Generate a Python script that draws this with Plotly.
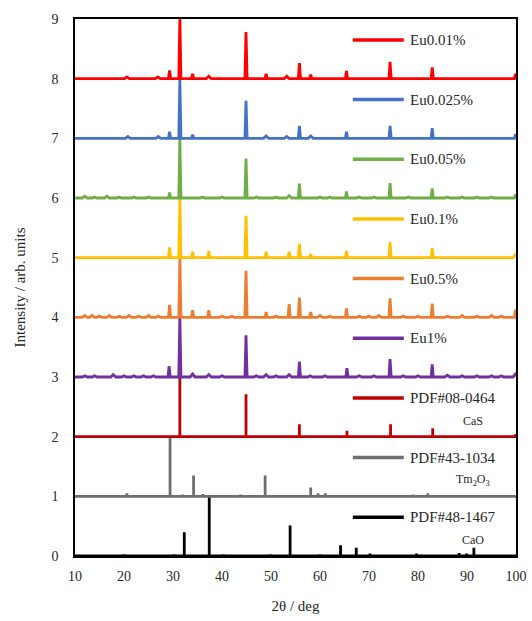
import plotly.graph_objects as go

# ---------------- data ----------------
series_names = ["Eu0.01%", "Eu0.025%", "Eu0.05%", "Eu0.1%", "Eu0.5%", "Eu1%",
                "PDF#08-0464", "PDF#43-1034", "PDF#48-1467"]
series_offsets = [8, 7, 6, 5, 4, 3, 2, 1, 0]
series_colors = ["#FF0000", "#4472C4", "#70AD47", "#FFC000", "#ED7D31", "#7030A0",
                 "#C00000", "#6E6E6E", "#000000"]
phase_labels = ["", "", "", "", "", "", "CaS", "Tm<sub>2</sub>O<sub>3</sub>", "CaO"]

# measured patterns: peak 2θ positions and heights (above each baseline)
eu001_pos = [20.6, 26.9, 29.3, 31.4, 34.0, 37.3, 44.9, 49.0, 53.2, 55.8, 58.1, 65.4, 74.3, 82.9, 99.9]
eu001_h   = [0.03, 0.03, 0.14, 1.00, 0.08, 0.04, 0.78, 0.08, 0.04, 0.26, 0.07, 0.13, 0.28, 0.19, 0.08]

eu0025_pos = [20.8, 27.0, 29.3, 31.4, 34.0, 44.9, 49.0, 53.2, 55.8, 58.1, 65.4, 74.3, 82.9, 99.9]
eu0025_h   = [0.03, 0.03, 0.11, 1.00, 0.06, 0.63, 0.04, 0.03, 0.21, 0.04, 0.11, 0.21, 0.17, 0.07]

eu005_pos = [12.0, 14.0, 16.5, 19.0, 22.0, 25.0, 29.3, 31.4, 36.0, 40.0, 44.9, 47.0, 51.0, 53.7,
             55.8, 60.0, 62.0, 65.4, 68.0, 71.0, 74.3, 78.0, 82.9, 86.0, 89.0, 92.0, 95.0, 99.9]
eu005_h   = [0.03, 0.015, 0.03, 0.015, 0.015, 0.015, 0.09, 1.00, 0.015, 0.015, 0.66, 0.015, 0.015, 0.04,
             0.24, 0.015, 0.015, 0.11, 0.015, 0.015, 0.25, 0.015, 0.16, 0.015, 0.015, 0.015, 0.015, 0.06]

eu01_pos = [29.3, 31.4, 34.0, 37.3, 44.9, 49.0, 53.7, 55.8, 58.1, 65.4, 74.3, 82.9, 99.9]
eu01_h   = [0.17, 1.00, 0.10, 0.11, 0.70, 0.10, 0.10, 0.23, 0.06, 0.11, 0.26, 0.16, 0.05]

eu05_pos = [12.0, 13.5, 15.0, 17.0, 19.0, 21.0, 23.0, 25.0, 27.0, 29.3, 31.4, 34.0, 37.3, 40.0,
            42.0, 44.9, 49.0, 51.0, 53.7, 55.8, 58.1, 60.0, 62.0, 65.4, 68.0, 70.0, 72.0, 74.3,
            77.0, 80.0, 82.9, 86.0, 89.0, 92.0, 95.0, 97.0, 99.9]
eu05_h   = [0.03, 0.035, 0.02, 0.03, 0.02, 0.03, 0.02, 0.03, 0.02, 0.21, 1.00, 0.12, 0.12, 0.02,
            0.02, 0.78, 0.09, 0.02, 0.22, 0.33, 0.09, 0.03, 0.02, 0.15, 0.02, 0.02, 0.03, 0.32,
            0.02, 0.02, 0.23, 0.02, 0.03, 0.02, 0.03, 0.02, 0.13]

eu1_pos = [12.0, 14.0, 17.8, 20.0, 22.0, 24.0, 26.0, 29.2, 31.4, 34.0, 37.3, 40.0, 44.9, 47.0,
           49.0, 51.0, 53.7, 55.8, 58.0, 61.0, 65.5, 68.0, 71.0, 74.3, 77.0, 80.0, 82.9, 86.0,
           89.0, 92.0, 95.0, 97.0, 99.9]
eu1_h   = [0.02, 0.02, 0.04, 0.02, 0.02, 0.02, 0.02, 0.18, 1.00, 0.05, 0.04, 0.02, 0.70, 0.02,
           0.04, 0.02, 0.04, 0.26, 0.02, 0.02, 0.15, 0.02, 0.02, 0.30, 0.02, 0.02, 0.21, 0.03,
           0.02, 0.02, 0.02, 0.02, 0.05]

# reference cards (stick patterns)
cas_pos = [31.4, 44.9, 55.8, 65.5, 74.4, 83.0, 99.9]
cas_h   = [1.00, 0.71, 0.21, 0.10, 0.21, 0.14, 0.04]

tm2o3_pos = [20.6, 29.4, 32.0, 34.2, 36.1, 38.3, 40.3, 43.8, 47.3, 48.8, 52.8, 54.5, 58.1, 59.6,
             61.1, 62.6, 64.2, 66.0, 71.8, 73.2, 74.6, 76.1, 77.5, 79.0, 82.0, 84.5, 87.0, 90.0,
             92.5, 95.0, 97.5]
tm2o3_h   = [0.05, 1.00, 0.03, 0.35, 0.04, 0.02, 0.02, 0.03, 0.02, 0.35, 0.02, 0.02, 0.15, 0.05,
             0.05, 0.02, 0.02, 0.02, 0.02, 0.02, 0.02, 0.02, 0.02, 0.03, 0.05, 0.02, 0.02, 0.02,
             0.02, 0.02, 0.02]

cao_pos = [20.0, 30.2, 32.3, 37.4, 40.3, 49.9, 53.9, 60.0, 64.2, 67.4, 70.2, 79.7, 88.4, 89.9, 91.4]
cao_h   = [0.03, 0.03, 0.40, 1.00, 0.03, 0.03, 0.51, 0.03, 0.18, 0.14, 0.04, 0.04, 0.05, 0.04, 0.14]

x_min, x_max = 10, 100
y_min, y_max = 0, 9
x_ticks = [10, 20, 30, 40, 50, 60, 70, 80, 90, 100]
y_ticks = [0, 1, 2, 3, 4, 5, 6, 7, 8, 9]

peak_lists = [(eu001_pos, eu001_h), (eu0025_pos, eu0025_h), (eu005_pos, eu005_h),
              (eu01_pos, eu01_h), (eu05_pos, eu05_h), (eu1_pos, eu1_h),
              (cas_pos, cas_h), (tm2o3_pos, tm2o3_h), (cao_pos, cao_h)]
is_stick = [False] * 6 + [True] * 3

# ---------------- drawing ----------------
FONT = "Liberation Serif, Times New Roman, serif"


def trace_xy(pos, h, base, stick):
    xs, ys = [x_min], [base]
    for p, v in zip(pos, h):
        if stick:
            hw = 0.0
        else:
            hw = 0.5 if v < 0.06 else 0.22  # small bumps are broader
        xs += [p - hw, p, p + hw]
        ys += [base, base + v, base]
    xs.append(x_max)
    ys.append(base)
    return xs, ys


fig = go.Figure()
order = list(range(len(series_names)))[::-1]  # draw bottom first
for i in order:
    pos, h = peak_lists[i]
    xs, ys = trace_xy(pos, h, series_offsets[i], is_stick[i])
    fig.add_trace(go.Scatter(x=xs, y=ys, mode="lines", name=series_names[i],
                             line=dict(color=series_colors[i], width=2.8),
                             showlegend=False, hoverinfo="skip"))

# legend-like labels inside the plot
leg_x0, leg_x1, leg_tx = 66.7, 77.1, 77.9
for i, name in enumerate(series_names):
    y = series_offsets[i] + 0.65
    fig.add_shape(type="line", xref="x", yref="y", x0=leg_x0, x1=leg_x1, y0=y, y1=y,
                  line=dict(color=series_colors[i], width=3.5))
    fig.add_annotation(x=leg_tx, y=y, xref="x", yref="y", text=name, showarrow=False,
                       xanchor="left", yanchor="middle",
                       font=dict(family=FONT, size=15, color="#262626"))
    if phase_labels[i]:
        fig.add_annotation(x=91.3, y=series_offsets[i] + 0.27, xref="x", yref="y",
                           text=phase_labels[i], showarrow=False,
                           xanchor="center", yanchor="middle",
                           font=dict(family=FONT, size=12, color="#262626"))

axis_common = dict(showgrid=False, zeroline=False, showline=True, linecolor="black",
                   linewidth=1.5, mirror=True, ticks="", automargin=False,
                   tickfont=dict(family=FONT, size=14, color="#262626"))

fig.update_layout(
    width=532, height=621,
    margin=dict(l=75, r=16, t=19, b=65),
    paper_bgcolor="white", plot_bgcolor="white",
    xaxis=dict(range=[x_min, x_max], tickvals=x_ticks, ticklabelstandoff=6,
               title=dict(text="2θ / deg", font=dict(family=FONT, size=15, color="#262626"),
                          standoff=18),
               **axis_common),
    yaxis=dict(range=[y_min, y_max], tickvals=y_ticks, ticklabelstandoff=12,
               title=dict(text="Intensity / arb. units",
                          font=dict(family=FONT, size=15, color="#262626"), standoff=22),
               **axis_common),
)

fig.write_html("out.html")
